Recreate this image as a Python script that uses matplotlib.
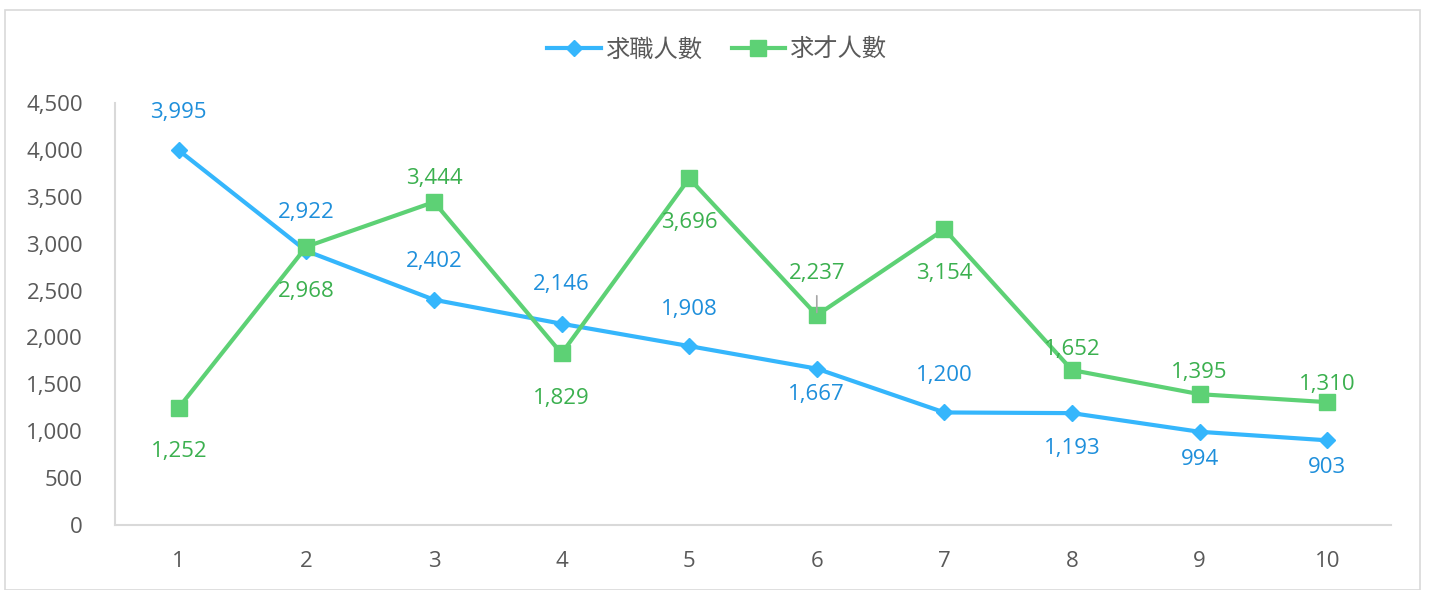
import matplotlib
matplotlib.use("Agg")
import matplotlib.pyplot as plt
from matplotlib.patches import Rectangle

plt.rcParams['font.family'] = ['Open Sans', 'Noto Sans CJK TC', 'DejaVu Sans']

categories = [1, 2, 3, 4, 5, 6, 7, 8, 9, 10]
job_seekers = [3995, 2922, 2402, 2146, 1908, 1667, 1200, 1193, 994, 903]
job_openings = [1252, 2968, 3444, 1829, 3696, 2237, 3154, 1652, 1395, 1310]
series_names = ['求職人數', '求才人數']
yticks = [0, 500, 1000, 1500, 2000, 2500, 3000, 3500, 4000, 4500]

# data-label vertical offsets in pixels (positive = above the point)
seeker_label_off = [40, 40, 40, 41, 39, -24, 39, -33, -26, -25]
opening_label_off = [-42, -43, 26, -43, -42, 44, -42, 23, 24, 20]

blue_line = '#35B6FC'
blue_text = '#1E8FDB'
green_line = '#5DD175'
green_text = '#3BB04F'
axis_gray = '#D9D9D9'
tick_gray = '#595959'

fig = plt.figure(figsize=(14.29, 5.9), dpi=100)
fig.patches.append(Rectangle((5/1429, 0), 1415/1429, 580/590, transform=fig.transFigure,
                             fill=False, edgecolor=axis_gray, linewidth=1.2))
ax = fig.add_axes([115/1429, 1-525/590, (1391-115)/1429, (525-103)/590])

x = list(range(len(categories)))
ax.plot(x, job_seekers, color=blue_line, lw=3, marker='D', markersize=8, label=series_names[0], zorder=3)
ax.plot(x, job_openings, color=green_line, lw=3, marker='s', markersize=11, label=series_names[1], zorder=3)

fs = 16
px = 0.72
for xi, v, o in zip(x, job_seekers, seeker_label_off):
    ax.annotate(f'{v:,}', (xi, v), xytext=(0, (o - 2) * px), textcoords='offset points',
                ha='center', va='center', color=blue_text, fontsize=fs)
for xi, v, o in zip(x, job_openings, opening_label_off):
    ax.annotate(f'{v:,}', (xi, v), xytext=(0, (o - 2) * px), textcoords='offset points',
                ha='center', va='center', color=green_text, fontsize=fs)

# leader line for label of point 6 (green)
i6 = 5
ax.annotate('', xy=(i6, job_openings[i6]), xytext=(0, 14), textcoords='offset points',
            arrowprops=dict(arrowstyle='-', color='#A6A6A6', lw=1.2, shrinkA=0, shrinkB=2), zorder=4)

ax.set_xlim(-0.5, len(categories) - 0.5)
ax.set_ylim(0, 4500)
ax.set_yticks(yticks)
ax.set_yticklabels([f'{t:,}' for t in yticks])
ax.set_xticks(x)
ax.set_xticklabels([str(c) for c in categories])

for s in ['top', 'right']:
    ax.spines[s].set_visible(False)
ax.spines['left'].set_color(axis_gray)
ax.spines['bottom'].set_color(axis_gray)
ax.spines['left'].set_linewidth(1.5)
ax.spines['bottom'].set_linewidth(1.5)
ax.tick_params(axis='both', length=0, colors=tick_gray, labelsize=fs)
ax.tick_params(axis='y', pad=23)
ax.tick_params(axis='x', pad=19)

leg = fig.legend(loc='center', bbox_to_anchor=(717/1429, 1-51/590), ncol=2, frameon=False,
                 fontsize=17.5, handlelength=2.2, columnspacing=1.2, handletextpad=0.2)
for t in leg.get_texts():
    t.set_color(tick_gray)

fig.savefig('out.png', dpi=100)
